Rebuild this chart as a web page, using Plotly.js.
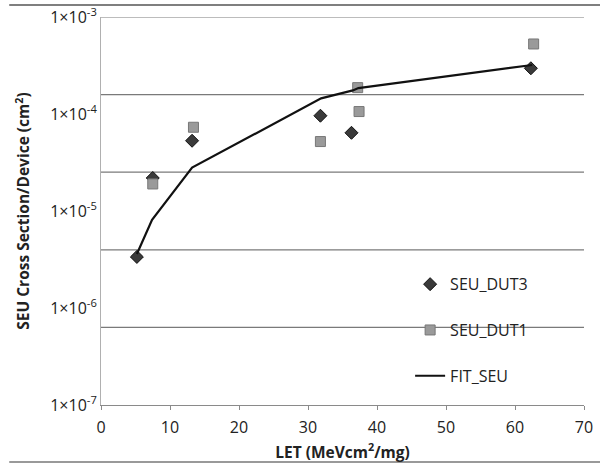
<!DOCTYPE html>
<html>
<head>
<meta charset="utf-8">
<script src="https://cdn.plot.ly/plotly-3.0.1.min.js"></script>
<style>
  html, body { margin: 0; padding: 0; background: #fff; }
  #chart { width: 600px; height: 465px; }
</style>
</head>
<body>
<div id="chart"></div>
<script>
// SEU cross section per device versus LET
const dut3Let = [5.2, 7.5, 13.2, 31.8, 36.3, 62.3];
const dut3Sigma = [3.36e-6, 2.19e-5, 5.3e-5, 9.6e-5, 6.4e-5, 2.96e-4];

const dut1Let = [7.5, 13.4, 31.8, 37.2, 37.4, 62.7];
const dut1Sigma = [1.9e-5, 7.3e-5, 5.2e-5, 1.87e-4, 1.06e-4, 5.27e-4];

const fitLet = [5.2, 7.4, 13.2, 31.9, 36.5, 37.3, 62.5];
const fitSigma = [3.6e-6, 8.1e-6, 2.8e-5, 1.45e-4, 1.75e-4, 1.85e-4, 3.2e-4];

const yTickVals = [1e-7, 1e-6, 1e-5, 1e-4, 1e-3];
const yTickText = ['1×10<sup>-7</sup>', '1×10<sup>-6</sup>', '1×10<sup>-5</sup>',
                   '1×10<sup>-4</sup>', '1×10<sup>-3</sup>'];
const xTickVals = [0, 10, 20, 30, 40, 50, 60, 70];

const FONT = '"Open Sans", "Liberation Sans", sans-serif';

// horizontal gridlines split the log range into five equal bands
const yLogMin = -7, yLogMax = -3, gridBands = 5;
const gridShapes = [];
for (let i = 0; i <= gridBands - 1; i++) {
  const v = Math.pow(10, yLogMax - i * (yLogMax - yLogMin) / gridBands);
  gridShapes.push({
    type: 'line', xref: 'paper', yref: 'y', x0: 0, x1: 1, y0: v, y1: v,
    line: { color: '#7a7a7a', width: 1.2 }, layer: 'below'
  });
}
// frame lines above and below the chart
gridShapes.push({ type: 'line', xref: 'paper', yref: 'paper', x0: -0.19, x1: 1.04, y0: 1.031, y1: 1.031,
  line: { color: '#555', width: 1.5 } });
gridShapes.push({ type: 'line', xref: 'paper', yref: 'paper', x0: -0.19, x1: 1.04, y0: -0.147, y1: -0.147,
  line: { color: '#777', width: 1.5 } });

const traces = [
  {
    x: dut3Let, y: dut3Sigma, name: 'SEU_DUT3', type: 'scatter', mode: 'markers',
    legendgroup: 'a',
    marker: { symbol: 'diamond', size: 10, color: '#3a3a3a', line: { color: '#111', width: 1 } }
  },
  {
    x: dut1Let, y: dut1Sigma, name: 'SEU_DUT1', type: 'scatter', mode: 'markers',
    legendgroup: 'b',
    marker: { symbol: 'square', size: 10, color: '#9a9a9a', line: { color: '#777', width: 1 } }
  },
  {
    x: fitLet, y: fitSigma, name: 'FIT_SEU', type: 'scatter', mode: 'lines',
    legendgroup: 'c',
    line: { color: '#111', width: 2.2 }
  }
];

const layout = {
  width: 600, height: 465,
  margin: { l: 101, r: 16, t: 17, b: 60 },
  paper_bgcolor: '#fff', plot_bgcolor: '#fff',
  font: { family: FONT, color: '#222', size: 16 },
  showlegend: true,
  legend: {
    x: 0.64, y: 0.355, xanchor: 'left', yanchor: 'top',
    bgcolor: 'rgba(0,0,0,0)', tracegroupgap: 22,
    font: { family: FONT, size: 16, color: '#222' },
    itemwidth: 30
  },
  xaxis: {
    range: [0, 70], tickvals: xTickVals, showgrid: false, zeroline: false,
    showline: true, linecolor: '#8a8a8a', linewidth: 1.2,
    ticks: 'outside', ticklen: 4, tickcolor: '#8a8a8a',
    ticklabelstandoff: 4,
    tickfont: { size: 16, family: FONT, color: '#222' },
    title: { text: '<b>LET (MeVcm<sup>2</sup>/mg)</b>', font: { size: 15.5, family: FONT, color: '#222' }, standoff: 9 }
  },
  yaxis: {
    type: 'log', range: [yLogMin, yLogMax], tickvals: yTickVals, ticktext: yTickText,
    showgrid: false, zeroline: false,
    showline: true, linecolor: '#b0b0b0', linewidth: 1,
    ticks: '', tickfont: { size: 16, family: FONT, color: '#222' },
    title: { text: '<b>SEU Cross Section/Device (cm<sup>2</sup>)</b>', font: { size: 15.5, family: FONT, color: '#222' }, standoff: 16 }
  },
  shapes: gridShapes
};

Plotly.newPlot('chart', traces, layout, { displayModeBar: false, staticPlot: true });
</script>
</body>
</html>
